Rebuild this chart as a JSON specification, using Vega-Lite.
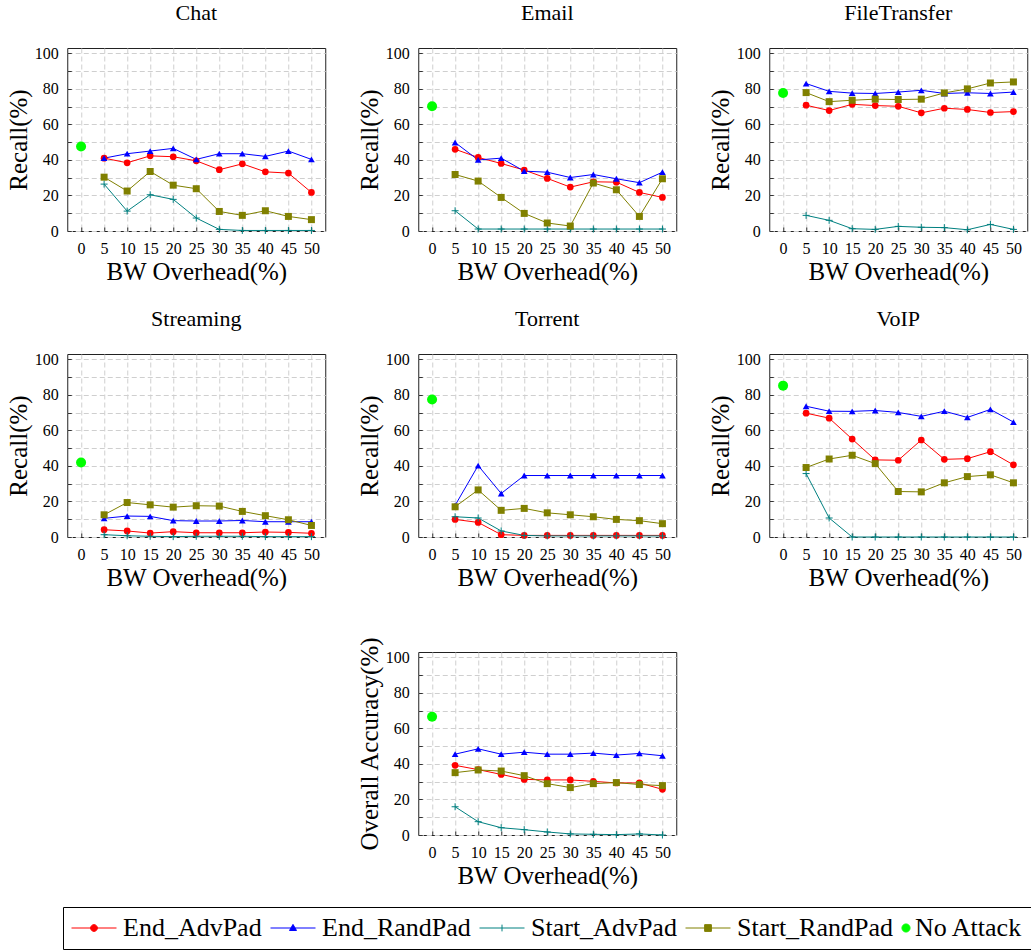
{
  "$schema": "https://vega.github.io/schema/vega-lite/v6.json",
  "padding": {"left": 5, "top": 1, "right": 0, "bottom": 0},
  "background": "white",
  "config": {
    "view": {"stroke": "#222", "strokeWidth": 1},
    "title": {"font": "Liberation Serif", "fontSize": 22, "fontWeight": "normal", "color": "#000", "offset": 20},
    "axis": {
      "labelFont": "Liberation Serif", "labelFontSize": 16, "labelColor": "#000",
      "titleFont": "Liberation Serif", "titleFontSize": 25, "titleFontWeight": "normal", "titleColor": "#000",
      "grid": true, "gridColor": "#cfcfcf", "gridDash": [5, 3], "gridWidth": 1,
      "domain": false, "ticks": true, "tickColor": "#333", "tickSize": -4,
      "labelPadding": 13, "titlePadding": 3, "labelFlush": false, "labelOverlap": false
    }
  },
  "data": {"values": [
    {"panel": "Chat", "series": "End_AdvPad", "bw": 5, "value": 41},
    {"panel": "Chat", "series": "End_AdvPad", "bw": 10, "value": 38.4},
    {"panel": "Chat", "series": "End_AdvPad", "bw": 15, "value": 42.3},
    {"panel": "Chat", "series": "End_AdvPad", "bw": 20, "value": 41.8},
    {"panel": "Chat", "series": "End_AdvPad", "bw": 25, "value": 39.5},
    {"panel": "Chat", "series": "End_AdvPad", "bw": 30, "value": 34.5},
    {"panel": "Chat", "series": "End_AdvPad", "bw": 35, "value": 37.8},
    {"panel": "Chat", "series": "End_AdvPad", "bw": 40, "value": 33.3},
    {"panel": "Chat", "series": "End_AdvPad", "bw": 45, "value": 32.6},
    {"panel": "Chat", "series": "End_AdvPad", "bw": 50, "value": 21.7},
    {"panel": "Chat", "series": "End_RandPad", "bw": 5, "value": 41},
    {"panel": "Chat", "series": "End_RandPad", "bw": 10, "value": 43.5},
    {"panel": "Chat", "series": "End_RandPad", "bw": 15, "value": 45},
    {"panel": "Chat", "series": "End_RandPad", "bw": 20, "value": 46.5},
    {"panel": "Chat", "series": "End_RandPad", "bw": 25, "value": 40.3},
    {"panel": "Chat", "series": "End_RandPad", "bw": 30, "value": 43.5},
    {"panel": "Chat", "series": "End_RandPad", "bw": 35, "value": 43.5},
    {"panel": "Chat", "series": "End_RandPad", "bw": 40, "value": 42},
    {"panel": "Chat", "series": "End_RandPad", "bw": 45, "value": 45},
    {"panel": "Chat", "series": "End_RandPad", "bw": 50, "value": 40.3},
    {"panel": "Chat", "series": "Start_AdvPad", "bw": 5, "value": 26.4},
    {"panel": "Chat", "series": "Start_AdvPad", "bw": 10, "value": 11.2},
    {"panel": "Chat", "series": "Start_AdvPad", "bw": 15, "value": 20.4},
    {"panel": "Chat", "series": "Start_AdvPad", "bw": 20, "value": 17.8},
    {"panel": "Chat", "series": "Start_AdvPad", "bw": 25, "value": 7.3},
    {"panel": "Chat", "series": "Start_AdvPad", "bw": 30, "value": 0.9},
    {"panel": "Chat", "series": "Start_AdvPad", "bw": 35, "value": 0.3},
    {"panel": "Chat", "series": "Start_AdvPad", "bw": 40, "value": 0.3},
    {"panel": "Chat", "series": "Start_AdvPad", "bw": 45, "value": 0.3},
    {"panel": "Chat", "series": "Start_AdvPad", "bw": 50, "value": 0.3},
    {"panel": "Chat", "series": "Start_RandPad", "bw": 5, "value": 30.3},
    {"panel": "Chat", "series": "Start_RandPad", "bw": 10, "value": 22.5},
    {"panel": "Chat", "series": "Start_RandPad", "bw": 15, "value": 33.5},
    {"panel": "Chat", "series": "Start_RandPad", "bw": 20, "value": 25.8},
    {"panel": "Chat", "series": "Start_RandPad", "bw": 25, "value": 23.8},
    {"panel": "Chat", "series": "Start_RandPad", "bw": 30, "value": 11},
    {"panel": "Chat", "series": "Start_RandPad", "bw": 35, "value": 8.8},
    {"panel": "Chat", "series": "Start_RandPad", "bw": 40, "value": 11.4},
    {"panel": "Chat", "series": "Start_RandPad", "bw": 45, "value": 8.2},
    {"panel": "Chat", "series": "Start_RandPad", "bw": 50, "value": 6.4},
    {"panel": "Chat", "series": "No Attack", "bw": 0, "value": 47.6},

    {"panel": "Email", "series": "End_AdvPad", "bw": 5, "value": 46},
    {"panel": "Email", "series": "End_AdvPad", "bw": 10, "value": 41.4},
    {"panel": "Email", "series": "End_AdvPad", "bw": 15, "value": 38},
    {"panel": "Email", "series": "End_AdvPad", "bw": 20, "value": 34.3},
    {"panel": "Email", "series": "End_AdvPad", "bw": 25, "value": 29.6},
    {"panel": "Email", "series": "End_AdvPad", "bw": 30, "value": 24.7},
    {"panel": "Email", "series": "End_AdvPad", "bw": 35, "value": 27.7},
    {"panel": "Email", "series": "End_AdvPad", "bw": 40, "value": 27.5},
    {"panel": "Email", "series": "End_AdvPad", "bw": 45, "value": 21.7},
    {"panel": "Email", "series": "End_AdvPad", "bw": 50, "value": 18.9},
    {"panel": "Email", "series": "End_RandPad", "bw": 5, "value": 49.8},
    {"panel": "Email", "series": "End_RandPad", "bw": 10, "value": 40},
    {"panel": "Email", "series": "End_RandPad", "bw": 15, "value": 41},
    {"panel": "Email", "series": "End_RandPad", "bw": 20, "value": 33.7},
    {"panel": "Email", "series": "End_RandPad", "bw": 25, "value": 33.1},
    {"panel": "Email", "series": "End_RandPad", "bw": 30, "value": 30.1},
    {"panel": "Email", "series": "End_RandPad", "bw": 35, "value": 31.8},
    {"panel": "Email", "series": "End_RandPad", "bw": 40, "value": 29.4},
    {"panel": "Email", "series": "End_RandPad", "bw": 45, "value": 27.2},
    {"panel": "Email", "series": "End_RandPad", "bw": 50, "value": 33.1},
    {"panel": "Email", "series": "Start_AdvPad", "bw": 5, "value": 11.4},
    {"panel": "Email", "series": "Start_AdvPad", "bw": 10, "value": 1.1},
    {"panel": "Email", "series": "Start_AdvPad", "bw": 15, "value": 1.1},
    {"panel": "Email", "series": "Start_AdvPad", "bw": 20, "value": 1.1},
    {"panel": "Email", "series": "Start_AdvPad", "bw": 25, "value": 1.1},
    {"panel": "Email", "series": "Start_AdvPad", "bw": 30, "value": 1.1},
    {"panel": "Email", "series": "Start_AdvPad", "bw": 35, "value": 1.1},
    {"panel": "Email", "series": "Start_AdvPad", "bw": 40, "value": 1.1},
    {"panel": "Email", "series": "Start_AdvPad", "bw": 45, "value": 1.1},
    {"panel": "Email", "series": "Start_AdvPad", "bw": 50, "value": 1.1},
    {"panel": "Email", "series": "Start_RandPad", "bw": 5, "value": 31.8},
    {"panel": "Email", "series": "Start_RandPad", "bw": 10, "value": 28.1},
    {"panel": "Email", "series": "Start_RandPad", "bw": 15, "value": 18.9},
    {"panel": "Email", "series": "Start_RandPad", "bw": 20, "value": 9.9},
    {"panel": "Email", "series": "Start_RandPad", "bw": 25, "value": 4.5},
    {"panel": "Email", "series": "Start_RandPad", "bw": 30, "value": 2.8},
    {"panel": "Email", "series": "Start_RandPad", "bw": 35, "value": 27},
    {"panel": "Email", "series": "Start_RandPad", "bw": 40, "value": 23.2},
    {"panel": "Email", "series": "Start_RandPad", "bw": 45, "value": 8.2},
    {"panel": "Email", "series": "Start_RandPad", "bw": 50, "value": 29.4},
    {"panel": "Email", "series": "No Attack", "bw": 0, "value": 70.2},

    {"panel": "FileTransfer", "series": "End_AdvPad", "bw": 5, "value": 70.8},
    {"panel": "FileTransfer", "series": "End_AdvPad", "bw": 10, "value": 67.8},
    {"panel": "FileTransfer", "series": "End_AdvPad", "bw": 15, "value": 71.3},
    {"panel": "FileTransfer", "series": "End_AdvPad", "bw": 20, "value": 70.6},
    {"panel": "FileTransfer", "series": "End_AdvPad", "bw": 25, "value": 70.2},
    {"panel": "FileTransfer", "series": "End_AdvPad", "bw": 30, "value": 66.5},
    {"panel": "FileTransfer", "series": "End_AdvPad", "bw": 35, "value": 69.1},
    {"panel": "FileTransfer", "series": "End_AdvPad", "bw": 40, "value": 68.4},
    {"panel": "FileTransfer", "series": "End_AdvPad", "bw": 45, "value": 66.7},
    {"panel": "FileTransfer", "series": "End_AdvPad", "bw": 50, "value": 67.2},
    {"panel": "FileTransfer", "series": "End_RandPad", "bw": 5, "value": 83},
    {"panel": "FileTransfer", "series": "End_RandPad", "bw": 10, "value": 78.6},
    {"panel": "FileTransfer", "series": "End_RandPad", "bw": 15, "value": 77.6},
    {"panel": "FileTransfer", "series": "End_RandPad", "bw": 20, "value": 77.4},
    {"panel": "FileTransfer", "series": "End_RandPad", "bw": 25, "value": 78.2},
    {"panel": "FileTransfer", "series": "End_RandPad", "bw": 30, "value": 79.2},
    {"panel": "FileTransfer", "series": "End_RandPad", "bw": 35, "value": 77.4},
    {"panel": "FileTransfer", "series": "End_RandPad", "bw": 40, "value": 77.8},
    {"panel": "FileTransfer", "series": "End_RandPad", "bw": 45, "value": 77.4},
    {"panel": "FileTransfer", "series": "End_RandPad", "bw": 50, "value": 78.2},
    {"panel": "FileTransfer", "series": "Start_AdvPad", "bw": 5, "value": 8.8},
    {"panel": "FileTransfer", "series": "Start_AdvPad", "bw": 10, "value": 6},
    {"panel": "FileTransfer", "series": "Start_AdvPad", "bw": 15, "value": 1.3},
    {"panel": "FileTransfer", "series": "Start_AdvPad", "bw": 20, "value": 0.9},
    {"panel": "FileTransfer", "series": "Start_AdvPad", "bw": 25, "value": 2.6},
    {"panel": "FileTransfer", "series": "Start_AdvPad", "bw": 30, "value": 2.1},
    {"panel": "FileTransfer", "series": "Start_AdvPad", "bw": 35, "value": 1.9},
    {"panel": "FileTransfer", "series": "Start_AdvPad", "bw": 40, "value": 0.7},
    {"panel": "FileTransfer", "series": "Start_AdvPad", "bw": 45, "value": 3.7},
    {"panel": "FileTransfer", "series": "Start_AdvPad", "bw": 50, "value": 0.9},
    {"panel": "FileTransfer", "series": "Start_RandPad", "bw": 5, "value": 77.9},
    {"panel": "FileTransfer", "series": "Start_RandPad", "bw": 10, "value": 72.8},
    {"panel": "FileTransfer", "series": "Start_RandPad", "bw": 15, "value": 73.6},
    {"panel": "FileTransfer", "series": "Start_RandPad", "bw": 20, "value": 74.2},
    {"panel": "FileTransfer", "series": "Start_RandPad", "bw": 25, "value": 74},
    {"panel": "FileTransfer", "series": "Start_RandPad", "bw": 30, "value": 74.2},
    {"panel": "FileTransfer", "series": "Start_RandPad", "bw": 35, "value": 77.7},
    {"panel": "FileTransfer", "series": "Start_RandPad", "bw": 40, "value": 80},
    {"panel": "FileTransfer", "series": "Start_RandPad", "bw": 45, "value": 83.3},
    {"panel": "FileTransfer", "series": "Start_RandPad", "bw": 50, "value": 83.9},
    {"panel": "FileTransfer", "series": "No Attack", "bw": 0, "value": 77.7},

    {"panel": "Streaming", "series": "End_AdvPad", "bw": 5, "value": 4.1},
    {"panel": "Streaming", "series": "End_AdvPad", "bw": 10, "value": 3.4},
    {"panel": "Streaming", "series": "End_AdvPad", "bw": 15, "value": 2.2},
    {"panel": "Streaming", "series": "End_AdvPad", "bw": 20, "value": 3},
    {"panel": "Streaming", "series": "End_AdvPad", "bw": 25, "value": 2.4},
    {"panel": "Streaming", "series": "End_AdvPad", "bw": 30, "value": 2.4},
    {"panel": "Streaming", "series": "End_AdvPad", "bw": 35, "value": 2.4},
    {"panel": "Streaming", "series": "End_AdvPad", "bw": 40, "value": 2.8},
    {"panel": "Streaming", "series": "End_AdvPad", "bw": 45, "value": 2.6},
    {"panel": "Streaming", "series": "End_AdvPad", "bw": 50, "value": 2.1},
    {"panel": "Streaming", "series": "End_RandPad", "bw": 5, "value": 10.5},
    {"panel": "Streaming", "series": "End_RandPad", "bw": 10, "value": 11.8},
    {"panel": "Streaming", "series": "End_RandPad", "bw": 15, "value": 11.6},
    {"panel": "Streaming", "series": "End_RandPad", "bw": 20, "value": 9.2},
    {"panel": "Streaming", "series": "End_RandPad", "bw": 25, "value": 9},
    {"panel": "Streaming", "series": "End_RandPad", "bw": 30, "value": 9},
    {"panel": "Streaming", "series": "End_RandPad", "bw": 35, "value": 9.3},
    {"panel": "Streaming", "series": "End_RandPad", "bw": 40, "value": 8.6},
    {"panel": "Streaming", "series": "End_RandPad", "bw": 45, "value": 8.6},
    {"panel": "Streaming", "series": "End_RandPad", "bw": 50, "value": 8.6},
    {"panel": "Streaming", "series": "Start_AdvPad", "bw": 5, "value": 1.3},
    {"panel": "Streaming", "series": "Start_AdvPad", "bw": 10, "value": 0.7},
    {"panel": "Streaming", "series": "Start_AdvPad", "bw": 15, "value": 0.4},
    {"panel": "Streaming", "series": "Start_AdvPad", "bw": 20, "value": 0.2},
    {"panel": "Streaming", "series": "Start_AdvPad", "bw": 25, "value": 0.4},
    {"panel": "Streaming", "series": "Start_AdvPad", "bw": 30, "value": 0.4},
    {"panel": "Streaming", "series": "Start_AdvPad", "bw": 35, "value": 0.4},
    {"panel": "Streaming", "series": "Start_AdvPad", "bw": 40, "value": 0.2},
    {"panel": "Streaming", "series": "Start_AdvPad", "bw": 45, "value": 0.2},
    {"panel": "Streaming", "series": "Start_AdvPad", "bw": 50, "value": 0.2},
    {"panel": "Streaming", "series": "Start_RandPad", "bw": 5, "value": 12.5},
    {"panel": "Streaming", "series": "Start_RandPad", "bw": 10, "value": 19.4},
    {"panel": "Streaming", "series": "Start_RandPad", "bw": 15, "value": 18.1},
    {"panel": "Streaming", "series": "Start_RandPad", "bw": 20, "value": 16.8},
    {"panel": "Streaming", "series": "Start_RandPad", "bw": 25, "value": 17.6},
    {"panel": "Streaming", "series": "Start_RandPad", "bw": 30, "value": 17.4},
    {"panel": "Streaming", "series": "Start_RandPad", "bw": 35, "value": 14.4},
    {"panel": "Streaming", "series": "Start_RandPad", "bw": 40, "value": 12},
    {"panel": "Streaming", "series": "Start_RandPad", "bw": 45, "value": 9.7},
    {"panel": "Streaming", "series": "Start_RandPad", "bw": 50, "value": 6.5},
    {"panel": "Streaming", "series": "No Attack", "bw": 0, "value": 41.9},

    {"panel": "Torrent", "series": "End_AdvPad", "bw": 5, "value": 9.9},
    {"panel": "Torrent", "series": "End_AdvPad", "bw": 10, "value": 8.2},
    {"panel": "Torrent", "series": "End_AdvPad", "bw": 15, "value": 1.3},
    {"panel": "Torrent", "series": "End_AdvPad", "bw": 20, "value": 0.9},
    {"panel": "Torrent", "series": "End_AdvPad", "bw": 25, "value": 0.9},
    {"panel": "Torrent", "series": "End_AdvPad", "bw": 30, "value": 0.9},
    {"panel": "Torrent", "series": "End_AdvPad", "bw": 35, "value": 0.9},
    {"panel": "Torrent", "series": "End_AdvPad", "bw": 40, "value": 0.9},
    {"panel": "Torrent", "series": "End_AdvPad", "bw": 45, "value": 0.9},
    {"panel": "Torrent", "series": "End_AdvPad", "bw": 50, "value": 0.9},
    {"panel": "Torrent", "series": "End_RandPad", "bw": 5, "value": 17.8},
    {"panel": "Torrent", "series": "End_RandPad", "bw": 10, "value": 40.2},
    {"panel": "Torrent", "series": "End_RandPad", "bw": 15, "value": 24.5},
    {"panel": "Torrent", "series": "End_RandPad", "bw": 20, "value": 34.6},
    {"panel": "Torrent", "series": "End_RandPad", "bw": 25, "value": 34.6},
    {"panel": "Torrent", "series": "End_RandPad", "bw": 30, "value": 34.6},
    {"panel": "Torrent", "series": "End_RandPad", "bw": 35, "value": 34.6},
    {"panel": "Torrent", "series": "End_RandPad", "bw": 40, "value": 34.6},
    {"panel": "Torrent", "series": "End_RandPad", "bw": 45, "value": 34.6},
    {"panel": "Torrent", "series": "End_RandPad", "bw": 50, "value": 34.6},
    {"panel": "Torrent", "series": "Start_AdvPad", "bw": 5, "value": 11.4},
    {"panel": "Torrent", "series": "Start_AdvPad", "bw": 10, "value": 10.7},
    {"panel": "Torrent", "series": "Start_AdvPad", "bw": 15, "value": 3.4},
    {"panel": "Torrent", "series": "Start_AdvPad", "bw": 20, "value": 0.9},
    {"panel": "Torrent", "series": "Start_AdvPad", "bw": 25, "value": 0.6},
    {"panel": "Torrent", "series": "Start_AdvPad", "bw": 30, "value": 0.6},
    {"panel": "Torrent", "series": "Start_AdvPad", "bw": 35, "value": 0.6},
    {"panel": "Torrent", "series": "Start_AdvPad", "bw": 40, "value": 0.6},
    {"panel": "Torrent", "series": "Start_AdvPad", "bw": 45, "value": 0.6},
    {"panel": "Torrent", "series": "Start_AdvPad", "bw": 50, "value": 0.6},
    {"panel": "Torrent", "series": "Start_RandPad", "bw": 5, "value": 17},
    {"panel": "Torrent", "series": "Start_RandPad", "bw": 10, "value": 26.5},
    {"panel": "Torrent", "series": "Start_RandPad", "bw": 15, "value": 15},
    {"panel": "Torrent", "series": "Start_RandPad", "bw": 20, "value": 16.1},
    {"panel": "Torrent", "series": "Start_RandPad", "bw": 25, "value": 13.6},
    {"panel": "Torrent", "series": "Start_RandPad", "bw": 30, "value": 12.5},
    {"panel": "Torrent", "series": "Start_RandPad", "bw": 35, "value": 11.4},
    {"panel": "Torrent", "series": "Start_RandPad", "bw": 40, "value": 9.9},
    {"panel": "Torrent", "series": "Start_RandPad", "bw": 45, "value": 9.2},
    {"panel": "Torrent", "series": "Start_RandPad", "bw": 50, "value": 7.5},
    {"panel": "Torrent", "series": "No Attack", "bw": 0, "value": 77.4},

    {"panel": "VoIP", "series": "End_AdvPad", "bw": 5, "value": 69.7},
    {"panel": "VoIP", "series": "End_AdvPad", "bw": 10, "value": 66.9},
    {"panel": "VoIP", "series": "End_AdvPad", "bw": 15, "value": 55.1},
    {"panel": "VoIP", "series": "End_AdvPad", "bw": 20, "value": 43.4},
    {"panel": "VoIP", "series": "End_AdvPad", "bw": 25, "value": 43.2},
    {"panel": "VoIP", "series": "End_AdvPad", "bw": 30, "value": 54.6},
    {"panel": "VoIP", "series": "End_AdvPad", "bw": 35, "value": 43.7},
    {"panel": "VoIP", "series": "End_AdvPad", "bw": 40, "value": 44.1},
    {"panel": "VoIP", "series": "End_AdvPad", "bw": 45, "value": 48},
    {"panel": "VoIP", "series": "End_AdvPad", "bw": 50, "value": 40.6},
    {"panel": "VoIP", "series": "End_RandPad", "bw": 5, "value": 73.6},
    {"panel": "VoIP", "series": "End_RandPad", "bw": 10, "value": 70.8},
    {"panel": "VoIP", "series": "End_RandPad", "bw": 15, "value": 70.7},
    {"panel": "VoIP", "series": "End_RandPad", "bw": 20, "value": 71.2},
    {"panel": "VoIP", "series": "End_RandPad", "bw": 25, "value": 70.1},
    {"panel": "VoIP", "series": "End_RandPad", "bw": 30, "value": 67.9},
    {"panel": "VoIP", "series": "End_RandPad", "bw": 35, "value": 70.8},
    {"panel": "VoIP", "series": "End_RandPad", "bw": 40, "value": 67.3},
    {"panel": "VoIP", "series": "End_RandPad", "bw": 45, "value": 71.8},
    {"panel": "VoIP", "series": "End_RandPad", "bw": 50, "value": 64.7},
    {"panel": "VoIP", "series": "Start_AdvPad", "bw": 5, "value": 35.7},
    {"panel": "VoIP", "series": "Start_AdvPad", "bw": 10, "value": 10.7},
    {"panel": "VoIP", "series": "Start_AdvPad", "bw": 15, "value": 0},
    {"panel": "VoIP", "series": "Start_AdvPad", "bw": 20, "value": 0},
    {"panel": "VoIP", "series": "Start_AdvPad", "bw": 25, "value": 0},
    {"panel": "VoIP", "series": "Start_AdvPad", "bw": 30, "value": 0},
    {"panel": "VoIP", "series": "Start_AdvPad", "bw": 35, "value": 0},
    {"panel": "VoIP", "series": "Start_AdvPad", "bw": 40, "value": 0},
    {"panel": "VoIP", "series": "Start_AdvPad", "bw": 45, "value": 0},
    {"panel": "VoIP", "series": "Start_AdvPad", "bw": 50, "value": 0},
    {"panel": "VoIP", "series": "Start_RandPad", "bw": 5, "value": 39.1},
    {"panel": "VoIP", "series": "Start_RandPad", "bw": 10, "value": 43.9},
    {"panel": "VoIP", "series": "Start_RandPad", "bw": 15, "value": 46},
    {"panel": "VoIP", "series": "Start_RandPad", "bw": 20, "value": 41.3},
    {"panel": "VoIP", "series": "Start_RandPad", "bw": 25, "value": 25.6},
    {"panel": "VoIP", "series": "Start_RandPad", "bw": 30, "value": 25.4},
    {"panel": "VoIP", "series": "Start_RandPad", "bw": 35, "value": 30.5},
    {"panel": "VoIP", "series": "Start_RandPad", "bw": 40, "value": 34},
    {"panel": "VoIP", "series": "Start_RandPad", "bw": 45, "value": 35},
    {"panel": "VoIP", "series": "Start_RandPad", "bw": 50, "value": 30.5},
    {"panel": "VoIP", "series": "No Attack", "bw": 0, "value": 85.2},

    {"panel": "Overall", "series": "End_AdvPad", "bw": 5, "value": 39.2},
    {"panel": "Overall", "series": "End_AdvPad", "bw": 10, "value": 36.8},
    {"panel": "Overall", "series": "End_AdvPad", "bw": 15, "value": 34.1},
    {"panel": "Overall", "series": "End_AdvPad", "bw": 20, "value": 31.3},
    {"panel": "Overall", "series": "End_AdvPad", "bw": 25, "value": 31},
    {"panel": "Overall", "series": "End_AdvPad", "bw": 30, "value": 31},
    {"panel": "Overall", "series": "End_AdvPad", "bw": 35, "value": 30.2},
    {"panel": "Overall", "series": "End_AdvPad", "bw": 40, "value": 29.3},
    {"panel": "Overall", "series": "End_AdvPad", "bw": 45, "value": 29.3},
    {"panel": "Overall", "series": "End_AdvPad", "bw": 50, "value": 25.7},
    {"panel": "Overall", "series": "End_RandPad", "bw": 5, "value": 45.5},
    {"panel": "Overall", "series": "End_RandPad", "bw": 10, "value": 48.5},
    {"panel": "Overall", "series": "End_RandPad", "bw": 15, "value": 45.5},
    {"panel": "Overall", "series": "End_RandPad", "bw": 20, "value": 46.6},
    {"panel": "Overall", "series": "End_RandPad", "bw": 25, "value": 45.5},
    {"panel": "Overall", "series": "End_RandPad", "bw": 30, "value": 45.5},
    {"panel": "Overall", "series": "End_RandPad", "bw": 35, "value": 46.1},
    {"panel": "Overall", "series": "End_RandPad", "bw": 40, "value": 45},
    {"panel": "Overall", "series": "End_RandPad", "bw": 45, "value": 45.9},
    {"panel": "Overall", "series": "End_RandPad", "bw": 50, "value": 44.6},
    {"panel": "Overall", "series": "Start_AdvPad", "bw": 5, "value": 15.9},
    {"panel": "Overall", "series": "Start_AdvPad", "bw": 10, "value": 7.5},
    {"panel": "Overall", "series": "Start_AdvPad", "bw": 15, "value": 4.1},
    {"panel": "Overall", "series": "Start_AdvPad", "bw": 20, "value": 3},
    {"panel": "Overall", "series": "Start_AdvPad", "bw": 25, "value": 1.7},
    {"panel": "Overall", "series": "Start_AdvPad", "bw": 30, "value": 0.6},
    {"panel": "Overall", "series": "Start_AdvPad", "bw": 35, "value": 0.4},
    {"panel": "Overall", "series": "Start_AdvPad", "bw": 40, "value": 0.2},
    {"panel": "Overall", "series": "Start_AdvPad", "bw": 45, "value": 0.6},
    {"panel": "Overall", "series": "Start_AdvPad", "bw": 50, "value": 0},
    {"panel": "Overall", "series": "Start_RandPad", "bw": 5, "value": 35.1},
    {"panel": "Overall", "series": "Start_RandPad", "bw": 10, "value": 36.6},
    {"panel": "Overall", "series": "Start_RandPad", "bw": 15, "value": 36},
    {"panel": "Overall", "series": "Start_RandPad", "bw": 20, "value": 33.4},
    {"panel": "Overall", "series": "Start_RandPad", "bw": 25, "value": 28.9},
    {"panel": "Overall", "series": "Start_RandPad", "bw": 30, "value": 26.7},
    {"panel": "Overall", "series": "Start_RandPad", "bw": 35, "value": 28.9},
    {"panel": "Overall", "series": "Start_RandPad", "bw": 40, "value": 29.5},
    {"panel": "Overall", "series": "Start_RandPad", "bw": 45, "value": 28.4},
    {"panel": "Overall", "series": "Start_RandPad", "bw": 50, "value": 27.8},
    {"panel": "Overall", "series": "No Attack", "bw": 0, "value": 66.6}
  ]},
  "resolve": {"scale": {"color": "shared"}, "legend": {"color": "shared"}},
  "spacing": 22,
  "center": true,
  "vconcat": [
    {
      "spacing": 30,
      "resolve": {"scale": {"color": "shared"}, "legend": {"color": "shared"}},
      "hconcat": [
        {
          "title": "Chat",
          "width": 258, "height": 183,
          "transform": [{"filter": "datum.panel === 'Chat'"}],
          "encoding": {
            "x": {"field": "bw", "type": "quantitative", "scale": {"domain": [-3, 53], "nice": false, "zero": false}, "axis": {"values": [0, 5, 10, 15, 20, 25, 30, 35, 40, 45, 50], "title": "BW Overhead(%)"}},
            "y": {"field": "value", "type": "quantitative", "scale": {"domain": [0, 103], "nice": false}, "axis": {"values": [0, 10, 20, 30, 40, 50, 60, 70, 80, 90, 100], "labelExpr": "datum.value % 20 === 0 ? datum.label : ''", "title": "Recall(%)"}},
            "color": {"field": "series", "type": "nominal",
              "scale": {"domain": ["End_AdvPad", "End_RandPad", "Start_AdvPad", "Start_RandPad", "No Attack"], "range": ["#ff0000", "#0000ff", "#008080", "#808000", "#00ff00"]},
              "legend": {
                "title": null, "orient": "none", "legendX": -4, "legendY": 859, "direction": "horizontal", "columns": 5,
                "symbolSize": 2025, "symbolStrokeWidth": 1, "labelFont": "Liberation Serif", "labelFontSize": 26, "labelColor": "#000", "labelLimit": 400,
                "labelOffset": 6, "columnPadding": 6, "padding": 8, "strokeColor": "#000", "fillColor": "#fff",
                "encoding": {
                  "symbols": {
                    "shape": {"value": {"expr": "datum.value === 'End_AdvPad' ? 'M-1,0H1M0.15,0A0.15,0.15 0 1,1 -0.15,0A0.15,0.15 0 1,1 0.15,0Z' : datum.value === 'End_RandPad' ? 'M-1,0H1M0,-0.16L0.155,0.11L-0.155,0.11Z' : datum.value === 'Start_AdvPad' ? 'M-1,0H1M0,-0.15V0.15' : datum.value === 'Start_RandPad' ? 'M-1,0H1M-0.15,-0.15H0.15V0.15H-0.15Z' : 'M0.18,0A0.18,0.18 0 1,1 -0.18,0A0.18,0.18 0 1,1 0.18,0Z'"}},
                    "size": {"value": 2025},
                    "strokeWidth": {"value": 1},
                    "opacity": {"value": 1},
                    "x": {"value": {"expr": "datum.value === 'No Attack' ? 5 : 23"}},
                    "y": {"value": 13}
                  },
                  "labels": {
                    "x": {"value": {"expr": "datum.value === 'No Attack' ? 14 : 52"}},
                    "y": {"value": 13}
                  }
                }
              }
            }
          },
          "layer": [
            {"transform": [{"filter": "datum.series !== 'No Attack'"}], "mark": {"type": "line", "strokeWidth": 1}},
            {"transform": [{"filter": "datum.series === 'End_AdvPad'"}], "mark": {"type": "point", "shape": "circle", "filled": true, "opacity": 1, "size": 45}},
            {"transform": [{"filter": "datum.series === 'End_RandPad'"}], "mark": {"type": "point", "shape": "triangle-up", "filled": true, "opacity": 1, "size": 45}},
            {"transform": [{"filter": "datum.series === 'Start_AdvPad'"}], "mark": {"type": "point", "shape": "M-1,0H1M0,-1V1", "filled": false, "opacity": 1, "size": 49, "strokeWidth": 1}},
            {"transform": [{"filter": "datum.series === 'Start_RandPad'"}], "mark": {"type": "point", "shape": "square", "filled": true, "opacity": 1, "size": 49}},
            {"transform": [{"filter": "datum.series === 'No Attack'"}], "mark": {"type": "point", "shape": "circle", "filled": true, "opacity": 1, "size": 100}}
          ]
        },
        {
          "title": "Email",
          "width": 258, "height": 183,
          "transform": [{"filter": "datum.panel === 'Email'"}],
          "encoding": {
            "x": {"field": "bw", "type": "quantitative", "scale": {"domain": [-3, 53], "nice": false, "zero": false}, "axis": {"values": [0, 5, 10, 15, 20, 25, 30, 35, 40, 45, 50], "title": "BW Overhead(%)"}},
            "y": {"field": "value", "type": "quantitative", "scale": {"domain": [0, 103], "nice": false}, "axis": {"values": [0, 10, 20, 30, 40, 50, 60, 70, 80, 90, 100], "labelExpr": "datum.value % 20 === 0 ? datum.label : ''", "title": "Recall(%)"}},
            "color": {"field": "series", "type": "nominal", "scale": {"domain": ["End_AdvPad", "End_RandPad", "Start_AdvPad", "Start_RandPad", "No Attack"], "range": ["#ff0000", "#0000ff", "#008080", "#808000", "#00ff00"]}}
          },
          "layer": [
            {"transform": [{"filter": "datum.series !== 'No Attack'"}], "mark": {"type": "line", "strokeWidth": 1}},
            {"transform": [{"filter": "datum.series === 'End_AdvPad'"}], "mark": {"type": "point", "shape": "circle", "filled": true, "opacity": 1, "size": 45}},
            {"transform": [{"filter": "datum.series === 'End_RandPad'"}], "mark": {"type": "point", "shape": "triangle-up", "filled": true, "opacity": 1, "size": 45}},
            {"transform": [{"filter": "datum.series === 'Start_AdvPad'"}], "mark": {"type": "point", "shape": "M-1,0H1M0,-1V1", "filled": false, "opacity": 1, "size": 49, "strokeWidth": 1}},
            {"transform": [{"filter": "datum.series === 'Start_RandPad'"}], "mark": {"type": "point", "shape": "square", "filled": true, "opacity": 1, "size": 49}},
            {"transform": [{"filter": "datum.series === 'No Attack'"}], "mark": {"type": "point", "shape": "circle", "filled": true, "opacity": 1, "size": 100}}
          ]
        },
        {
          "title": "FileTransfer",
          "width": 258, "height": 183,
          "transform": [{"filter": "datum.panel === 'FileTransfer'"}],
          "encoding": {
            "x": {"field": "bw", "type": "quantitative", "scale": {"domain": [-3, 53], "nice": false, "zero": false}, "axis": {"values": [0, 5, 10, 15, 20, 25, 30, 35, 40, 45, 50], "title": "BW Overhead(%)"}},
            "y": {"field": "value", "type": "quantitative", "scale": {"domain": [0, 103], "nice": false}, "axis": {"values": [0, 10, 20, 30, 40, 50, 60, 70, 80, 90, 100], "labelExpr": "datum.value % 20 === 0 ? datum.label : ''", "title": "Recall(%)"}},
            "color": {"field": "series", "type": "nominal", "scale": {"domain": ["End_AdvPad", "End_RandPad", "Start_AdvPad", "Start_RandPad", "No Attack"], "range": ["#ff0000", "#0000ff", "#008080", "#808000", "#00ff00"]}}
          },
          "layer": [
            {"transform": [{"filter": "datum.series !== 'No Attack'"}], "mark": {"type": "line", "strokeWidth": 1}},
            {"transform": [{"filter": "datum.series === 'End_AdvPad'"}], "mark": {"type": "point", "shape": "circle", "filled": true, "opacity": 1, "size": 45}},
            {"transform": [{"filter": "datum.series === 'End_RandPad'"}], "mark": {"type": "point", "shape": "triangle-up", "filled": true, "opacity": 1, "size": 45}},
            {"transform": [{"filter": "datum.series === 'Start_AdvPad'"}], "mark": {"type": "point", "shape": "M-1,0H1M0,-1V1", "filled": false, "opacity": 1, "size": 49, "strokeWidth": 1}},
            {"transform": [{"filter": "datum.series === 'Start_RandPad'"}], "mark": {"type": "point", "shape": "square", "filled": true, "opacity": 1, "size": 49}},
            {"transform": [{"filter": "datum.series === 'No Attack'"}], "mark": {"type": "point", "shape": "circle", "filled": true, "opacity": 1, "size": 100}}
          ]
        }
      ]
    },
    {
      "spacing": 30,
      "resolve": {"scale": {"color": "shared"}, "legend": {"color": "shared"}},
      "hconcat": [
        {
          "title": "Streaming",
          "width": 258, "height": 183,
          "transform": [{"filter": "datum.panel === 'Streaming'"}],
          "encoding": {
            "x": {"field": "bw", "type": "quantitative", "scale": {"domain": [-3, 53], "nice": false, "zero": false}, "axis": {"values": [0, 5, 10, 15, 20, 25, 30, 35, 40, 45, 50], "title": "BW Overhead(%)"}},
            "y": {"field": "value", "type": "quantitative", "scale": {"domain": [0, 103], "nice": false}, "axis": {"values": [0, 10, 20, 30, 40, 50, 60, 70, 80, 90, 100], "labelExpr": "datum.value % 20 === 0 ? datum.label : ''", "title": "Recall(%)"}},
            "color": {"field": "series", "type": "nominal", "scale": {"domain": ["End_AdvPad", "End_RandPad", "Start_AdvPad", "Start_RandPad", "No Attack"], "range": ["#ff0000", "#0000ff", "#008080", "#808000", "#00ff00"]}}
          },
          "layer": [
            {"transform": [{"filter": "datum.series !== 'No Attack'"}], "mark": {"type": "line", "strokeWidth": 1}},
            {"transform": [{"filter": "datum.series === 'End_AdvPad'"}], "mark": {"type": "point", "shape": "circle", "filled": true, "opacity": 1, "size": 45}},
            {"transform": [{"filter": "datum.series === 'End_RandPad'"}], "mark": {"type": "point", "shape": "triangle-up", "filled": true, "opacity": 1, "size": 45}},
            {"transform": [{"filter": "datum.series === 'Start_AdvPad'"}], "mark": {"type": "point", "shape": "M-1,0H1M0,-1V1", "filled": false, "opacity": 1, "size": 49, "strokeWidth": 1}},
            {"transform": [{"filter": "datum.series === 'Start_RandPad'"}], "mark": {"type": "point", "shape": "square", "filled": true, "opacity": 1, "size": 49}},
            {"transform": [{"filter": "datum.series === 'No Attack'"}], "mark": {"type": "point", "shape": "circle", "filled": true, "opacity": 1, "size": 100}}
          ]
        },
        {
          "title": "Torrent",
          "width": 258, "height": 183,
          "transform": [{"filter": "datum.panel === 'Torrent'"}],
          "encoding": {
            "x": {"field": "bw", "type": "quantitative", "scale": {"domain": [-3, 53], "nice": false, "zero": false}, "axis": {"values": [0, 5, 10, 15, 20, 25, 30, 35, 40, 45, 50], "title": "BW Overhead(%)"}},
            "y": {"field": "value", "type": "quantitative", "scale": {"domain": [0, 103], "nice": false}, "axis": {"values": [0, 10, 20, 30, 40, 50, 60, 70, 80, 90, 100], "labelExpr": "datum.value % 20 === 0 ? datum.label : ''", "title": "Recall(%)"}},
            "color": {"field": "series", "type": "nominal", "scale": {"domain": ["End_AdvPad", "End_RandPad", "Start_AdvPad", "Start_RandPad", "No Attack"], "range": ["#ff0000", "#0000ff", "#008080", "#808000", "#00ff00"]}}
          },
          "layer": [
            {"transform": [{"filter": "datum.series !== 'No Attack'"}], "mark": {"type": "line", "strokeWidth": 1}},
            {"transform": [{"filter": "datum.series === 'End_AdvPad'"}], "mark": {"type": "point", "shape": "circle", "filled": true, "opacity": 1, "size": 45}},
            {"transform": [{"filter": "datum.series === 'End_RandPad'"}], "mark": {"type": "point", "shape": "triangle-up", "filled": true, "opacity": 1, "size": 45}},
            {"transform": [{"filter": "datum.series === 'Start_AdvPad'"}], "mark": {"type": "point", "shape": "M-1,0H1M0,-1V1", "filled": false, "opacity": 1, "size": 49, "strokeWidth": 1}},
            {"transform": [{"filter": "datum.series === 'Start_RandPad'"}], "mark": {"type": "point", "shape": "square", "filled": true, "opacity": 1, "size": 49}},
            {"transform": [{"filter": "datum.series === 'No Attack'"}], "mark": {"type": "point", "shape": "circle", "filled": true, "opacity": 1, "size": 100}}
          ]
        },
        {
          "title": "VoIP",
          "width": 258, "height": 183,
          "transform": [{"filter": "datum.panel === 'VoIP'"}],
          "encoding": {
            "x": {"field": "bw", "type": "quantitative", "scale": {"domain": [-3, 53], "nice": false, "zero": false}, "axis": {"values": [0, 5, 10, 15, 20, 25, 30, 35, 40, 45, 50], "title": "BW Overhead(%)"}},
            "y": {"field": "value", "type": "quantitative", "scale": {"domain": [0, 103], "nice": false}, "axis": {"values": [0, 10, 20, 30, 40, 50, 60, 70, 80, 90, 100], "labelExpr": "datum.value % 20 === 0 ? datum.label : ''", "title": "Recall(%)"}},
            "color": {"field": "series", "type": "nominal", "scale": {"domain": ["End_AdvPad", "End_RandPad", "Start_AdvPad", "Start_RandPad", "No Attack"], "range": ["#ff0000", "#0000ff", "#008080", "#808000", "#00ff00"]}}
          },
          "layer": [
            {"transform": [{"filter": "datum.series !== 'No Attack'"}], "mark": {"type": "line", "strokeWidth": 1}},
            {"transform": [{"filter": "datum.series === 'End_AdvPad'"}], "mark": {"type": "point", "shape": "circle", "filled": true, "opacity": 1, "size": 45}},
            {"transform": [{"filter": "datum.series === 'End_RandPad'"}], "mark": {"type": "point", "shape": "triangle-up", "filled": true, "opacity": 1, "size": 45}},
            {"transform": [{"filter": "datum.series === 'Start_AdvPad'"}], "mark": {"type": "point", "shape": "M-1,0H1M0,-1V1", "filled": false, "opacity": 1, "size": 49, "strokeWidth": 1}},
            {"transform": [{"filter": "datum.series === 'Start_RandPad'"}], "mark": {"type": "point", "shape": "square", "filled": true, "opacity": 1, "size": 49}},
            {"transform": [{"filter": "datum.series === 'No Attack'"}], "mark": {"type": "point", "shape": "circle", "filled": true, "opacity": 1, "size": 100}}
          ]
        }
      ]
    },
    {
      "title": {"text": " ", "offset": -1},
      "width": 258, "height": 183,
      "transform": [{"filter": "datum.panel === 'Overall'"}],
      "encoding": {
        "x": {"field": "bw", "type": "quantitative", "scale": {"domain": [-3, 53], "nice": false, "zero": false}, "axis": {"values": [0, 5, 10, 15, 20, 25, 30, 35, 40, 45, 50], "title": "BW Overhead(%)"}},
        "y": {"field": "value", "type": "quantitative", "scale": {"domain": [0, 103], "nice": false}, "axis": {"values": [0, 10, 20, 30, 40, 50, 60, 70, 80, 90, 100], "labelExpr": "datum.value % 20 === 0 ? datum.label : ''", "title": "Overall Accuracy(%)"}},
        "color": {"field": "series", "type": "nominal", "scale": {"domain": ["End_AdvPad", "End_RandPad", "Start_AdvPad", "Start_RandPad", "No Attack"], "range": ["#ff0000", "#0000ff", "#008080", "#808000", "#00ff00"]}}
      },
      "layer": [
        {"transform": [{"filter": "datum.series !== 'No Attack'"}], "mark": {"type": "line", "strokeWidth": 1}},
        {"transform": [{"filter": "datum.series === 'End_AdvPad'"}], "mark": {"type": "point", "shape": "circle", "filled": true, "opacity": 1, "size": 45}},
        {"transform": [{"filter": "datum.series === 'End_RandPad'"}], "mark": {"type": "point", "shape": "triangle-up", "filled": true, "opacity": 1, "size": 45}},
        {"transform": [{"filter": "datum.series === 'Start_AdvPad'"}], "mark": {"type": "point", "shape": "M-1,0H1M0,-1V1", "filled": false, "opacity": 1, "size": 49, "strokeWidth": 1}},
        {"transform": [{"filter": "datum.series === 'Start_RandPad'"}], "mark": {"type": "point", "shape": "square", "filled": true, "opacity": 1, "size": 49}},
        {"transform": [{"filter": "datum.series === 'No Attack'"}], "mark": {"type": "point", "shape": "circle", "filled": true, "opacity": 1, "size": 100}}
      ]
    }
  ]
}
